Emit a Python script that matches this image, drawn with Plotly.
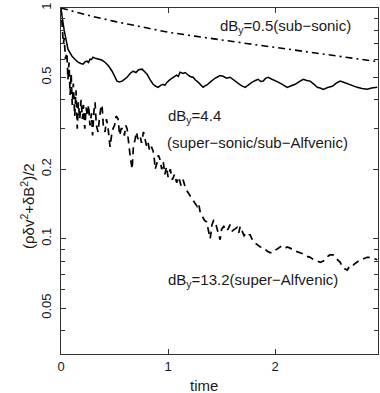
import plotly.graph_objects as go

# sub-sonic (dash-dot)
t_sub = [0.0, 0.25, 0.5, 0.75, 1.0, 1.25, 1.5, 1.75, 2.0, 2.25, 2.5, 2.75, 2.96]
e_sub = [1.0, 0.93, 0.875, 0.83, 0.785, 0.755, 0.725, 0.70, 0.675, 0.65, 0.625, 0.60, 0.585]

# super-sonic / sub-Alfvenic (solid)
t_mid = [0, 0.03, 0.065, 0.103, 0.13, 0.159, 0.185, 0.206, 0.225, 0.243, 0.257, 0.271, 0.285,
         0.299, 0.320, 0.346, 0.380, 0.411, 0.445, 0.477, 0.500, 0.523, 0.545, 0.570, 0.595,
         0.617, 0.645, 0.673, 0.700, 0.725, 0.757, 0.780, 0.804, 0.830, 0.860, 0.885, 0.907,
         0.930, 0.953, 0.970, 0.991, 1.020, 1.047, 1.080, 1.095, 1.112, 1.140, 1.160, 1.178,
         1.205, 1.234, 1.255, 1.280, 1.305, 1.327, 1.345, 1.365, 1.393, 1.420, 1.440, 1.458,
         1.485, 1.514, 1.545, 1.579, 1.610, 1.645, 1.680, 1.720, 1.750, 1.785, 1.815, 1.841,
         1.865, 1.888, 1.910, 1.935, 1.975, 2.000, 2.028, 2.070, 2.112, 2.150, 2.187, 2.225,
         2.262, 2.295, 2.327, 2.360, 2.393, 2.420, 2.449, 2.490, 2.533, 2.570, 2.607, 2.645,
         2.682, 2.725, 2.766, 2.810, 2.860, 2.900, 2.953]
e_mid = [0.99, 0.80, 0.663, 0.618, 0.600, 0.582, 0.575, 0.571, 0.585, 0.588, 0.580, 0.600, 0.598,
         0.612, 0.605, 0.600, 0.595, 0.582, 0.560, 0.532, 0.505, 0.482, 0.478, 0.482, 0.492,
         0.501, 0.520, 0.532, 0.525, 0.540, 0.543, 0.530, 0.516, 0.490, 0.467, 0.458, 0.453,
         0.462, 0.467, 0.462, 0.477, 0.490, 0.501, 0.512, 0.506, 0.527, 0.520, 0.525, 0.516,
         0.505, 0.501, 0.487, 0.477, 0.462, 0.453, 0.460, 0.465, 0.477, 0.490, 0.497, 0.501,
         0.510, 0.506, 0.496, 0.501, 0.488, 0.477, 0.462, 0.453, 0.465, 0.477, 0.485, 0.491,
         0.480, 0.482, 0.495, 0.501, 0.490, 0.482, 0.477, 0.465, 0.453, 0.460, 0.467, 0.480,
         0.491, 0.485, 0.482, 0.468, 0.453, 0.450, 0.444, 0.452, 0.458, 0.472, 0.482, 0.475,
         0.467, 0.460, 0.453, 0.448, 0.444, 0.450, 0.453]

# super-Alfvenic (dashed)
t_sup = [0.000, 0.012, 0.022, 0.030, 0.042, 0.055, 0.065, 0.075, 0.085, 0.095, 0.105, 0.115,
         0.128, 0.140, 0.152, 0.162, 0.175, 0.188, 0.200, 0.210, 0.222, 0.235, 0.245, 0.258,
         0.270, 0.285, 0.295, 0.308, 0.318, 0.330, 0.346, 0.358, 0.372, 0.383, 0.395, 0.411,
         0.425, 0.440, 0.458, 0.472, 0.486, 0.500, 0.515, 0.533, 0.548, 0.562, 0.579, 0.592,
         0.605, 0.617, 0.630, 0.645, 0.664, 0.676, 0.692, 0.705, 0.718, 0.738, 0.752, 0.770,
         0.785, 0.800, 0.813, 0.828, 0.845, 0.860, 0.872, 0.879, 0.893, 0.910, 0.925, 0.940,
         0.955, 0.970, 0.985, 1.000, 1.020, 1.040, 1.060, 1.080, 1.100, 1.120, 1.140, 1.159,
         1.180, 1.200, 1.220, 1.240, 1.271, 1.285, 1.299, 1.320, 1.340, 1.360, 1.375, 1.393,
         1.410, 1.425, 1.439, 1.455, 1.470, 1.486, 1.500, 1.520, 1.540, 1.560, 1.579, 1.600,
         1.620, 1.645, 1.660, 1.673, 1.690, 1.710, 1.730, 1.748, 1.766, 1.790, 1.810, 1.830,
         1.860, 1.879, 1.900, 1.930, 1.953, 1.981, 2.000, 2.030, 2.060, 2.075, 2.095, 2.112,
         2.140, 2.170, 2.200, 2.234, 2.260, 2.290, 2.327, 2.360, 2.390, 2.421, 2.450, 2.480,
         2.510, 2.542, 2.570, 2.607, 2.626, 2.650, 2.673, 2.701, 2.729, 2.760, 2.794, 2.830,
         2.860, 2.888, 2.920, 2.953]
e_sup = [1.00, 0.82, 0.70, 0.74, 0.60, 0.64, 0.49, 0.58, 0.42, 0.52, 0.38, 0.47,
         0.34, 0.44, 0.30, 0.39, 0.33, 0.40, 0.33, 0.38, 0.30, 0.37, 0.34, 0.38,
         0.31, 0.35, 0.28, 0.36, 0.39, 0.31, 0.29, 0.33, 0.37, 0.38, 0.31, 0.29,
         0.33, 0.30, 0.25, 0.28, 0.30, 0.31, 0.34, 0.33, 0.28, 0.30, 0.30, 0.28,
         0.31, 0.30, 0.26, 0.23, 0.20, 0.25, 0.27, 0.29, 0.27, 0.28, 0.26, 0.29,
         0.27, 0.25, 0.26, 0.24, 0.25, 0.24, 0.22, 0.20, 0.21, 0.23, 0.22, 0.20,
         0.215, 0.19, 0.205, 0.185, 0.20, 0.18, 0.19, 0.175, 0.185, 0.17, 0.18, 0.168,
         0.16, 0.155, 0.15, 0.145, 0.138, 0.142, 0.131, 0.125, 0.12, 0.118, 0.11, 0.10,
         0.115, 0.12, 0.119, 0.11, 0.105, 0.099, 0.11, 0.113, 0.108, 0.11, 0.115, 0.108,
         0.11, 0.112, 0.106, 0.113, 0.108, 0.103, 0.106, 0.104, 0.104, 0.098, 0.096, 0.094,
         0.092, 0.092, 0.090, 0.088, 0.087, 0.087, 0.089, 0.091, 0.093, 0.092, 0.091, 0.092,
         0.091, 0.089, 0.088, 0.087, 0.086, 0.084, 0.083, 0.081, 0.080, 0.079, 0.080, 0.083,
         0.085, 0.085, 0.082, 0.079, 0.076, 0.074, 0.073, 0.077, 0.077, 0.079, 0.081, 0.082,
         0.083, 0.083, 0.082, 0.081]

y_tickvals = [0.05, 0.1, 0.2, 0.5, 1]
y_ticktext = ["0.05", "0.1", "0.2", "0.5", "1"]
y_minor = [0.04, 0.06, 0.07, 0.08, 0.09, 0.3, 0.4, 0.6, 0.7, 0.8, 0.9]
x_tickvals = [0, 1, 2]

FONT = "Liberation Sans, Arial, sans-serif"
INK = "#1a1a1a"

W, H = 380, 393
ML, MR, MT, MB = 61, 2, 8, 39
PW, PH = W - ML - MR, H - MT - MB


def px_to_paper(px, py):
    return (px - ML) / PW, 1 - (py - MT) / PH


fig = go.Figure()
fig.add_trace(go.Scatter(x=t_sub, y=e_sub, mode="lines",
                         line=dict(color="black", width=1.6, dash="7px,4px,2px,4px")))
fig.add_trace(go.Scatter(x=t_mid, y=e_mid, mode="lines",
                         line=dict(color="black", width=1.5)))
fig.add_trace(go.Scatter(x=t_sup, y=e_sup, mode="lines",
                         line=dict(color="black", width=1.7, dash="7px,5px")))

axis_common = dict(showline=True, linecolor="#333", linewidth=1, mirror="ticks",
                   ticks="inside", ticklen=5, tickcolor="#333", showgrid=False,
                   zeroline=False, automargin=False,
                   tickfont=dict(family=FONT, size=13, color=INK))

fig.update_xaxes(range=[0, 2.96], tickvals=x_tickvals, ticktext=["0", "1", "2"],
                 **axis_common)
fig.update_yaxes(type="log", range=[-1.5, 0], tickvals=y_tickvals, ticktext=y_ticktext,
                 tickangle=-90, ticklabelstandoff=4,
                 minor=dict(tickvals=y_minor, ticks="inside", ticklen=4, tickcolor="#333"),
                 **axis_common)

ann_font = dict(family=FONT, size=15, color=INK)
fig.add_annotation(x=2.10, y=-0.082, xref="x", yref="y", text="dB<sub>y</sub>=0.5(sub\u2212sonic)",
                   showarrow=False, font=ann_font, xanchor="center", yanchor="middle")
fig.add_annotation(x=0.98, y=-0.47, xref="x", yref="y", text="dB<sub>y</sub>=4.4",
                   showarrow=False, font=ann_font, xanchor="left", yanchor="middle")
fig.add_annotation(x=0.97, y=-0.585, xref="x", yref="y",
                   text="(super\u2212sonic/sub\u2212Alfvenic)",
                   showarrow=False, font=ann_font, xanchor="left", yanchor="middle")
fig.add_annotation(x=0.98, y=-1.18, xref="x", yref="y",
                   text="dB<sub>y</sub>=13.2(super\u2212Alfvenic)",
                   showarrow=False, font=ann_font, xanchor="left", yanchor="middle")

tx, ty = px_to_paper(27, 206)
fig.add_annotation(x=tx, y=ty, xref="paper", yref="paper",
                   text="(\u03c1\u03b4v<sup>2</sup>+\u03b4B<sup>2</sup>)/2",
                   showarrow=False, font=ann_font, textangle=-90,
                   xanchor="center", yanchor="middle")
tx, ty = px_to_paper(204, 385)
fig.add_annotation(x=tx, y=ty, xref="paper", yref="paper", text="time",
                   showarrow=False, font=ann_font, xanchor="center", yanchor="middle")

fig.update_layout(width=W, height=H, margin=dict(l=ML, r=MR, t=MT, b=MB),
                  plot_bgcolor="white", paper_bgcolor="white", showlegend=False)

fig.write_html("out.html", config={"displayModeBar": False},
               post_script="document.body.style.margin='0';document.body.style.overflow='hidden';")
